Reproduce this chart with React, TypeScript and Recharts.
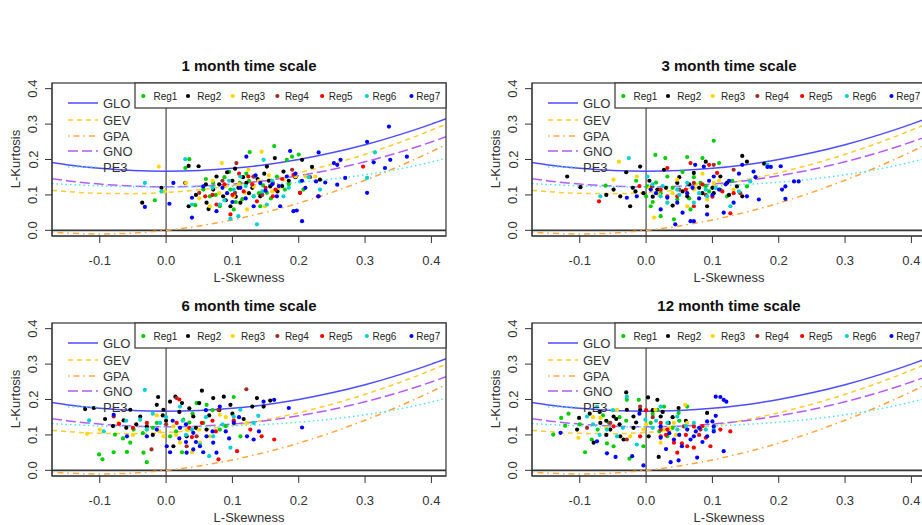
import React from "react";
import { ComposedChart, Line, Scatter, XAxis, YAxis, ReferenceLine } from "recharts";

type Pt = [number, number];

// theoretical L-moment ratio curves, read at these skewness values
const skewGrid = [-0.172, -0.15, -0.1, -0.05, 0, 0.05, 0.1, 0.15, 0.2, 0.25, 0.3, 0.35, 0.4, 0.422];
const gloKurt = [0.1913, 0.1854, 0.175, 0.1688, 0.1667, 0.1688, 0.175, 0.1854, 0.2, 0.2188, 0.2417, 0.2688, 0.3, 0.3151];
const gevKurt = [0.1134, 0.1097, 0.1045, 0.1036, 0.107, 0.1147, 0.1265, 0.1425, 0.1626, 0.1867, 0.2148, 0.2468, 0.2827, 0.2997];
const gpaKurt = [-0.005, -0.0077, -0.0102, -0.0076, 0, 0.0124, 0.0294, 0.051, 0.0769, 0.1071, 0.1415, 0.1799, 0.2222, 0.2421];
const gnoKurt = [0.1459, 0.1403, 0.1306, 0.1248, 0.1228, 0.1248, 0.1306, 0.1403, 0.154, 0.1717, 0.1935, 0.2194, 0.2495, 0.2641];
const pe3Kurt = [0.1322, 0.1297, 0.1255, 0.1232, 0.1224, 0.1232, 0.1255, 0.1297, 0.1359, 0.1448, 0.1569, 0.1727, 0.1929, 0.2034];

const curveNames = ["GLO", "GEV", "GPA", "GNO", "PE3"];
const curveColors = ["#4d4dff", "#ffcc33", "#ffa640", "#b25cff", "#55e3e8"];
const curveDash = [undefined, "5 4", "1.5 4 6 4", "10 4", "1.5 3"];

const regionNames = ["Reg1", "Reg2", "Reg3", "Reg4", "Reg5", "Reg6", "Reg7"];
const regionColors = ["#00cd00", "#000000", "#ffd700", "#a52a2a", "#ff0000", "#00d2d2", "#0000ff"];

const xTicks = [-0.1, 0, 0.1, 0.2, 0.3, 0.4];
const yTicks = [0, 0.1, 0.2, 0.3, 0.4];

// 1 month
const m1Reg1: Pt[] = [[-0.017,0.085],[0.029,0.176],[0.035,0.201],[0.126,0.221],[0.163,0.238],[0.19,0.208],[0.2,0.214],[0.044,0.071],[0.056,0.115],[0.071,0.134],[0.081,0.068],[0.097,0.115],[0.111,0.134],[0.142,0.068],[0.152,0.106],[0.167,0.152],[0.179,0.115],[0.102,0.059],[0.066,0.096],[0.132,0.096],[0.182,0.199],[0.207,0.115],[0.088,0.15],[0.121,0.16],[0.146,0.127],[0.06,0.145],[0.158,0.09],[0.115,0.088],[0.075,0.1],[0.105,0.08],[0.125,0.14],[0.095,0.165],[0.14,0.105],[0.185,0.13]];
const m1Reg2: Pt[] = [[-0.036,0.078],[-0.007,0.12],[0.029,0.134],[0.034,0.182],[0.049,0.181],[0.061,0.078],[0.076,0.152],[0.092,0.164],[0.104,0.174],[0.109,0.12],[0.121,0.134],[0.132,0.152],[0.152,0.18],[0.164,0.204],[0.177,0.166],[0.205,0.199],[0.22,0.179],[0.232,0.143],[0.202,0.106],[0.097,0.068],[0.112,0.078],[0.142,0.096],[0.157,0.124],[0.086,0.096],[0.071,0.115],[0.034,0.068],[0.064,0.06],[0.125,0.105],[0.138,0.145],[0.168,0.11],[0.08,0.13],[0.116,0.15],[0.185,0.14],[0.148,0.16],[0.1,0.14],[0.045,0.1],[0.09,0.085],[0.13,0.12],[0.105,0.095],[0.155,0.14],[0.175,0.125],[0.06,0.13],[0.195,0.15]];
const m1Reg3: Pt[] = [[-0.011,0.18],[-0.002,0.11],[0.03,0.134],[0.066,0.068],[0.084,0.19],[0.124,0.171],[0.144,0.222],[0.119,0.106],[0.132,0.124],[0.177,0.143],[0.195,0.152],[0.21,0.152],[0.225,0.152],[0.149,0.068],[0.102,0.096],[0.122,0.059],[0.09,0.125],[0.14,0.14],[0.16,0.11],[0.05,0.09],[0.07,0.14],[0.11,0.13],[0.155,0.155],[0.17,0.12],[0.08,0.105]];
const m1Reg4: Pt[] = [[0.106,0.19],[0.104,0.106],[0.132,0.152],[0.19,0.171],[0.217,0.15],[0.05,0.106],[0.161,0.134],[0.085,0.14],[0.145,0.1]];
const m1Reg5: Pt[] = [[0.059,0.096],[0.097,0.045],[0.117,0.11],[0.124,0.152],[0.161,0.096],[0.192,0.157],[0.202,0.106],[0.297,0.18],[0.137,0.082],[0.076,0.073],[0.088,0.13],[0.15,0.12],[0.175,0.145],[0.11,0.16],[0.229,0.096],[0.1,0.1],[0.13,0.13],[0.165,0.115],[0.07,0.1]];
const m1Reg6: Pt[] = [[-0.032,0.134],[-0.007,0.11],[0.029,0.201],[0.039,0.073],[0.081,0.073],[0.097,0.033],[0.109,0.04],[0.137,0.017],[0.152,0.073],[0.147,0.199],[0.177,0.096],[0.202,0.138],[0.232,0.115],[0.303,0.148],[0.315,0.22],[0.102,0.115],[0.132,0.096],[0.112,0.152],[0.07,0.12],[0.16,0.14],[0.088,0.085],[0.215,0.15],[0.12,0.125],[0.095,0.14],[0.145,0.11],[0.185,0.12]];
const m1Reg7: Pt[] = [[-0.032,0.066],[0.005,0.075],[0.011,0.134],[0.039,0.036],[0.039,0.092],[0.121,0.208],[0.187,0.224],[0.192,0.054],[0.205,0.026],[0.197,0.056],[0.23,0.22],[0.23,0.096],[0.263,0.199],[0.258,0.185],[0.27,0.148],[0.258,0.129],[0.303,0.25],[0.303,0.106],[0.313,0.192],[0.336,0.293],[0.338,0.199],[0.33,0.176],[0.363,0.208],[0.253,0.19],[0.092,0.105],[0.112,0.12],[0.132,0.068],[0.172,0.068],[0.142,0.134],[0.182,0.152],[0.167,0.096],[0.226,0.138],[0.056,0.124],[0.076,0.054],[0.15,0.112],[0.195,0.16],[0.12,0.09],[0.21,0.12],[0.24,0.135],[0.17,0.125],[0.1,0.08],[0.135,0.155],[0.16,0.13],[0.085,0.12],[0.205,0.14]];

// 3 month
const m3Reg1: Pt[] = [[0,0.096],[0.014,0.213],[0.029,0.204],[0.007,0.068],[0.022,0.04],[0.042,0.031],[0.062,0.207],[0.085,0.204],[0.102,0.253],[0.11,0.19],[0.152,0.124],[-0.061,0.126],[0.067,0.059],[0.047,0.087],[0.022,0.105],[0.082,0.134],[0.112,0.115],[0.122,0.096],[0.032,0.152],[0.002,0.124],[-0.015,0.14],[0.055,0.165],[0.095,0.11],[0.01,0.08],[0.072,0.15],[0.13,0.14],[0.04,0.12],[0.065,0.09],[0.09,0.125],[0.015,0.135]];
const m3Reg2: Pt[] = [[-0.119,0.152],[-0.099,0.122],[-0.03,0.164],[-0.009,0.18],[-0.049,0.115],[-0.039,0.096],[-0.024,0.068],[-0.004,0.105],[0.027,0.171],[0.047,0.134],[0.072,0.162],[0.09,0.194],[0.102,0.105],[0.122,0.134],[0.145,0.21],[0.152,0.194],[0.178,0.188],[0.145,0.096],[0.137,0.124],[-0.016,0.11],[0.062,0.096],[0.092,0.068],[0.112,0.152],[0.017,0.115],[0.04,0.07],[-0.06,0.1],[0.08,0.12],[0.005,0.14],[0.055,0.11],[0.125,0.1],[0.03,0.12],[0.065,0.13],[0.1,0.12],[0.01,0.095],[0.05,0.15],[-0.02,0.12],[0.085,0.105]];
const m3Reg3: Pt[] = [[-0.041,0.194],[-0.049,0.143],[0.012,0.036],[0.032,0.078],[0.047,0.143],[0.072,0.115],[0.092,0.087],[0.102,0.134],[0.062,0.068],[-0.014,0.152],[0.132,0.115],[0.02,0.1],[0.085,0.16],[0.005,0.12],[0.04,0.105],[0.075,0.13],[0.11,0.14]];
const m3Reg4: Pt[] = [[0.009,0.124],[0.032,0.096],[0.072,0.134],[0.132,0.171],[0.102,0.185],[0.142,0.105],[0.05,0.115],[0.09,0.1]];
const m3Reg5: Pt[] = [[-0.071,0.082],[0.032,0.176],[0.067,0.19],[0.095,0.185],[0.107,0.162],[0.127,0.048],[0.132,0.105],[0.072,0.068],[0.047,0.096],[0.022,0.115],[0.115,0.11],[0.085,0.13],[-0.01,0.125],[0.06,0.115],[0.1,0.095]];
const m3Reg6: Pt[] = [[-0.026,0.204],[-0.069,0.096],[0.002,0.152],[0.022,0.096],[0.047,0.115],[0.072,0.078],[0.092,0.096],[0.127,0.068],[0.157,0.138],[0.183,0.185],[0.062,0.134],[0.032,0.078],[0.105,0.12],[0.01,0.13],[0.14,0.11],[0.08,0.105],[0.05,0.1],[0.09,0.115],[0.025,0.125]];
const m3Reg7: Pt[] = [[-0.029,0.092],[-0.014,0.096],[0.007,0.115],[0.022,0.059],[0.044,0.017],[0.067,0.026],[0.072,0.026],[0.092,0.045],[0.074,0.185],[0.087,0.18],[0.102,0.152],[0.117,0.05],[0.145,0.185],[0.162,0.166],[0.183,0.179],[0.188,0.179],[0.203,0.181],[0.205,0.115],[0.21,0.124],[0.21,0.089],[0.223,0.138],[0.23,0.138],[0.17,0.087],[0.152,0.096],[0.132,0.078],[0.047,0.078],[0.062,0.105],[0.032,0.092],[0.095,0.14],[0.12,0.13],[0.165,0.15],[0.055,0.05],[0.08,0.09],[0.14,0.16],[0.1,0.1],[0.07,0.12],[0.11,0.115],[0.015,0.105],[0.125,0.14]];

// 6 month
const m6Reg1: Pt[] = [[-0.101,0.045],[-0.096,0.031],[-0.079,0.051],[-0.059,0.052],[-0.034,0.05],[-0.029,0.023],[-0.054,0.078],[-0.077,0.101],[-0.049,0.115],[-0.014,0.134],[0.006,0.096],[0.026,0.143],[0.046,0.19],[0.061,0.185],[0.102,0.207],[0.112,0.096],[0.024,0.051],[0.056,0.134],[0.081,0.115],[0.102,0.138],[0.04,0.16],[-0.065,0.09],[0.015,0.11],[0.07,0.17],[-0.02,0.12],[0.035,0.135],[0.09,0.125],[-0.035,0.105]];
const m6Reg2: Pt[] = [[-0.122,0.173],[-0.109,0.176],[-0.092,0.145],[-0.064,0.141],[-0.054,0.171],[-0.012,0.207],[-0.014,0.185],[-0.004,0.171],[0.006,0.194],[0.014,0.208],[0.024,0.19],[0.041,0.152],[0.054,0.225],[0.071,0.204],[0.087,0.208],[0.097,0.185],[0.117,0.145],[0.137,0.204],[0.157,0.197],[0.147,0.18],[0.061,0.115],[0.031,0.096],[0.011,0.068],[-0.029,0.124],[-0.039,0.152],[-0.08,0.125],[-0.02,0.1],[0.08,0.17],[0.045,0.12],[0,0.14],[-0.06,0.12],[0.13,0.18],[-0.005,0.155],[0.02,0.165],[0.035,0.175],[0.065,0.155],[0.1,0.16],[-0.045,0.13],[0.05,0.19]];
const m6Reg3: Pt[] = [[-0.119,0.103],[-0.1,0.115],[-0.072,0.134],[-0.029,0.115],[-0.014,0.155],[-0.004,0.096],[0.021,0.078],[0.039,0.051],[0.051,0.078],[0.066,0.096],[0.081,0.157],[0.122,0.134],[0.011,0.124],[0.031,0.115],[-0.05,0.1],[0.09,0.15],[0.015,0.1],[0.05,0.115],[-0.01,0.11]];
const m6Reg4: Pt[] = [[-0.079,0.152],[-0.022,0.059],[0.016,0.204],[0.031,0.068],[0.079,0.171],[0.121,0.229],[0.046,0.096],[0,0.13]];
const m6Reg5: Pt[] = [[-0.071,0.131],[-0.029,0.134],[0.016,0.134],[0.039,0.094],[0.054,0.134],[0.079,0.031],[0.102,0.141],[0.107,0.054],[0.144,0.096],[0.163,0.087],[0.127,0.115],[0.075,0.11],[-0.05,0.12],[0.02,0.2],[0.035,0.12],[0.07,0.14]];
const m6Reg6: Pt[] = [[-0.116,0.141],[-0.094,0.11],[-0.032,0.227],[-0.039,0.143],[-0.029,0.115],[-0.009,0.134],[0.021,0.18],[0.039,0.115],[0.051,0.073],[0.065,0.04],[0.097,0.064],[0.071,0.096],[0.102,0.152],[0.139,0.154],[0.132,0.134],[0.112,0.171],[0,0.15],[-0.06,0.14],[0.085,0.13],[0.03,0.1],[0.025,0.14],[0.06,0.15],[-0.02,0.16]];
const m6Reg7: Pt[] = [[-0.079,0.157],[-0.059,0.096],[-0.029,0.096],[-0.014,0.115],[0.001,0.068],[0.006,0.051],[0.021,0.12],[0.031,0.05],[0.041,0.059],[0.051,0.068],[0.056,0.051],[0.076,0.05],[0.071,0.078],[0.061,0.096],[0.081,0.18],[0.102,0.134],[0.122,0.096],[0.132,0.087],[0.147,0.194],[0.163,0.199],[0.185,0.176],[0.205,0.121],[0.041,0.106],[0.01,0.14],[0.09,0.11],[0.06,0.17],[0.14,0.11],[0.03,0.08],[0.11,0.15],[0.02,0.09],[0.045,0.08],[0.07,0.11],[0.095,0.09],[0.03,0.13]];

// 12 month
const m12Reg1: Pt[] = [[-0.14,0.101],[-0.128,0.148],[-0.122,0.126],[-0.117,0.16],[-0.092,0.051],[-0.082,0.087],[-0.059,0.076],[-0.049,0.068],[-0.029,0.199],[-0.011,0.199],[-0.025,0.033],[-0.004,0.068],[0.017,0.171],[0.027,0.18],[0.049,0.162],[0.062,0.18],[-0.056,0.134],[-0.073,0.115],[0.007,0.134],[0.032,0.096],[-0.04,0.15],[0.04,0.12],[-0.1,0.13],[0.02,0.11],[-0.065,0.155],[-0.03,0.14],[0.01,0.16],[0.05,0.14]];
const m12Reg2: Pt[] = [[-0.104,0.115],[-0.101,0.148],[-0.079,0.078],[-0.069,0.134],[-0.049,0.152],[-0.03,0.22],[-0.034,0.087],[-0.029,0.171],[-0.019,0.152],[-0.009,0.171],[0.003,0.206],[0.017,0.199],[0.022,0.152],[0.019,0.038],[0.034,0.134],[0.049,0.176],[-0.019,0.12],[-0.039,0.096],[-0.054,0.115],[0.092,0.162],[0.004,0.096],[-0.085,0.16],[-0.06,0.1],[0.06,0.14],[0.01,0.17],[-0.04,0.13],[-0.07,0.165],[-0.045,0.145],[-0.015,0.135],[0.025,0.165],[-0.06,0.14],[0.04,0.15]];
const m12Reg3: Pt[] = [[-0.102,0.092],[-0.069,0.148],[-0.044,0.171],[-0.024,0.096],[0.014,0.171],[0.027,0.115],[0.042,0.134],[0.059,0.185],[0.022,0.078],[-0.004,0.115],[0.062,0.134],[-0.08,0.15],[0.045,0.1],[-0.06,0.12],[0,0.13],[0.035,0.12]];
const m12Reg4: Pt[] = [[-0.089,0.12],[-0.054,0.134],[-0.009,0.18],[0.022,0.115],[0.057,0.124],[0.082,0.115],[-0.029,0.087],[0.01,0.15]];
const m12Reg5: Pt[] = [[-0.049,0.124],[-0.009,0.096],[0.022,0.096],[0.032,0.115],[0.042,0.078],[0.054,0.076],[0.062,0.068],[0.072,0.064],[0.09,0.092],[0.097,0.068],[0.127,0.11],[0.022,0.134],[0.047,0.05],[0.072,0.124],[0.112,0.115],[0,0.17],[0.08,0.1],[0.03,0.1],[0.06,0.1],[0.085,0.125]];
const m12Reg6: Pt[] = [[-0.089,0.152],[-0.074,0.18],[-0.059,0.115],[-0.044,0.096],[-0.029,0.208],[-0.014,0.073],[-0.001,0.143],[0.022,0.18],[0.032,0.134],[0.047,0.152],[0.072,0.134],[0.09,0.115],[0.102,0.115],[0.047,0.115],[-0.07,0.1],[0.01,0.12],[-0.05,0.17],[-0.035,0.12],[0.015,0.14],[0.06,0.125],[-0.08,0.13]];
const m12Reg7: Pt[] = [[-0.129,0.106],[-0.074,0.082],[-0.059,0.048],[-0.046,0.038],[-0.021,0.04],[-0.004,0.014],[0.022,0.092],[0.037,0.023],[0.049,0.028],[0.054,0.068],[0.067,0.087],[0.077,0.036],[0.092,0.096],[0.102,0.124],[0.105,0.154],[0.105,0.208],[0.112,0.207],[0.117,0.199],[0.121,0.194],[0.117,0.054],[0.102,0.11],[0.072,0.096],[0.042,0.087],[0.022,0.124],[0.062,0.115],[0.092,0.138],[0.1,0.138],[-0.01,0.16],[0.08,0.12],[0.03,0.06],[0.035,0.105],[0.075,0.11],[0.05,0.1],[0.085,0.08]];

const font = "'Liberation Sans', Arial, sans-serif";

const XTick = (p: any) => (
  <text x={p.x} y={p.y + 15} textAnchor="middle" dominantBaseline="central" fontSize={13} fontFamily={font} fill="#333">
    {Number(p.payload.value).toFixed(1)}
  </text>
);

const YTick = (p: any) => (
  <text x={p.x - 10} y={p.y} transform={`rotate(-90 ${p.x - 10} ${p.y})`} textAnchor="middle" dominantBaseline="central" fontSize={13} fontFamily={font} fill="#333">
    {Number(p.payload.value).toFixed(1)}
  </text>
);

const curves = [gloKurt, gevKurt, gpaKurt, gnoKurt, pe3Kurt].map((k) => skewGrid.map((x, i) => ({ x, y: k[i] })));

function Panel({ title, regions, left, top }: { title: string; regions: Pt[][]; left: number; top: number }) {
  return (
    <div style={{ position: "absolute", left, top, width: 480, height: 240 }}>
      <ComposedChart width={480} height={240} margin={{ top: 33, right: 34, bottom: 24, left: 12 }}>
        <XAxis type="number" dataKey="x" domain={[-0.172, 0.422]} allowDataOverflow ticks={xTicks} interval={0} height={30} tickSize={7} stroke="#333" tick={XTick} />
        <YAxis type="number" dataKey="y" domain={[-0.016, 0.416]} allowDataOverflow ticks={yTicks} interval={0} width={40} tickSize={7} stroke="#333" tick={YTick} />
        <ReferenceLine x={0} stroke="#555" strokeWidth={1.3} />
        <ReferenceLine y={0} stroke="#333" strokeWidth={1.6} />
        {curves.map((d, i) => (
          <Line key={curveNames[i]} data={d} dataKey="y" type="monotone" stroke={curveColors[i]} strokeWidth={1.5} strokeDasharray={curveDash[i]} dot={false} activeDot={false} isAnimationActive={false} />
        ))}
        {regions.map((pts, i) => (
          <Scatter
            key={regionNames[i]}
            data={pts.map(([x, y]) => ({ x, y }))}
            fill={regionColors[i]}
            isAnimationActive={false}
            shape={(s: any) => <circle cx={s.cx} cy={s.cy} r={2.1} fill={regionColors[i]} />}
          />
        ))}
      </ComposedChart>
      <svg width={480} height={240} style={{ position: "absolute", left: 0, top: 0, pointerEvents: "none" }} fontFamily={font}>
        <rect x={52} y={33} width={394} height={153} fill="none" stroke="#333" strokeWidth={1.2} />
        <text x={249} y={15} textAnchor="middle" dominantBaseline="central" fontSize={15} fontWeight="bold" fill="#111">{title}</text>
        <text x={249} y={227} textAnchor="middle" dominantBaseline="central" fontSize={13} fill="#333">L-Skewness</text>
        <text x={15} y={109} transform="rotate(-90 15 109)" textAnchor="middle" dominantBaseline="central" fontSize={13} fill="#333">L-Kurtosis</text>
        {curveNames.map((n, i) => {
          const y = [53, 70, 86, 101, 117][i];
          return (
            <g key={n}>
              <line x1={68} x2={98} y1={y} y2={y} stroke={curveColors[i]} strokeWidth={1.5} strokeDasharray={curveDash[i]} />
              <text x={103} y={y} dominantBaseline="central" fontSize={13} fill="#333">{n}</text>
            </g>
          );
        })}
        <rect x={135} y={33} width={311} height={25} fill="#fff" stroke="#333" strokeWidth={1.2} />
        {regionNames.map((n, i) => (
          <g key={n}>
            <circle cx={143.3 + i * 44.7} cy={46} r={2.1} fill={regionColors[i]} />
            <text x={153.5 + i * 43.8} y={46} dominantBaseline="central" fontSize={10} fill="#222">{n}</text>
          </g>
        ))}
      </svg>
    </div>
  );
}

export default function App() {
  return (
    <div style={{ position: "absolute", left: 0, top: 0, width: 922, height: 525, overflow: "hidden", background: "#fff" }}>
      <Panel title="1 month time scale" left={0} top={50} regions={[m1Reg1, m1Reg2, m1Reg3, m1Reg4, m1Reg5, m1Reg6, m1Reg7]} />
      <Panel title="3 month time scale" left={480} top={50} regions={[m3Reg1, m3Reg2, m3Reg3, m3Reg4, m3Reg5, m3Reg6, m3Reg7]} />
      <Panel title="6 month time scale" left={0} top={290} regions={[m6Reg1, m6Reg2, m6Reg3, m6Reg4, m6Reg5, m6Reg6, m6Reg7]} />
      <Panel title="12 month time scale" left={480} top={290} regions={[m12Reg1, m12Reg2, m12Reg3, m12Reg4, m12Reg5, m12Reg6, m12Reg7]} />
    </div>
  );
}
